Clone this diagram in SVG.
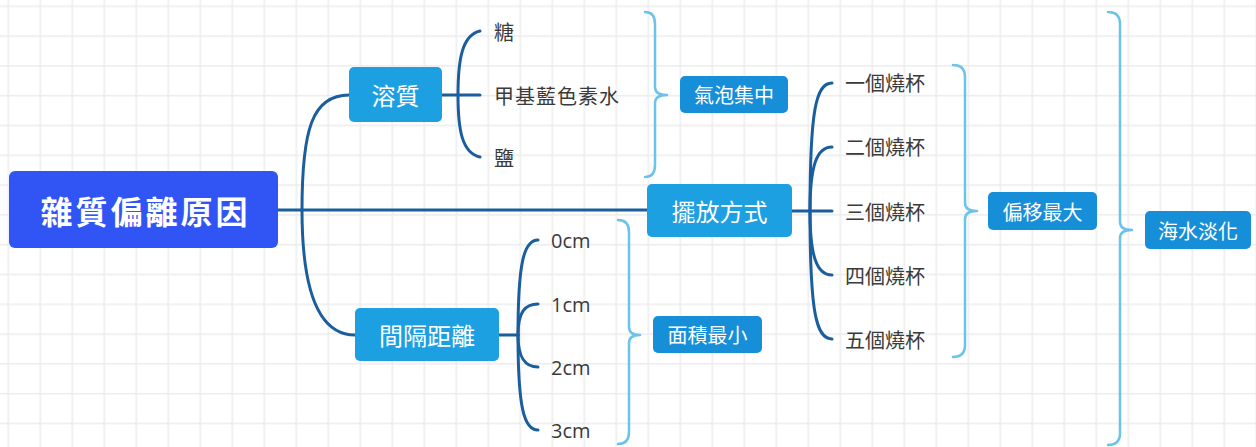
<svg xmlns="http://www.w3.org/2000/svg" width="1256" height="447" viewBox="0 0 1256 447">
<defs>
<pattern id="grid" patternUnits="userSpaceOnUse" x="7.5" y="5.5" width="32" height="29.8">
<rect x="0" y="0" width="1.5" height="29.8" fill="#ececec"/>
<rect x="0" y="0" width="32" height="1.5" fill="#ececec"/>
</pattern>
<style>
.conn{fill:none;stroke:#1b5e9e;stroke-width:3;stroke-linecap:round}
.brace{fill:none;stroke:#6cc3ea;stroke-width:2.5;stroke-linecap:round;stroke-linejoin:round}
.root{fill:#3155f5}
.main{fill:#1ca0e2}
.sum{fill:#168fd8}
.t{font-family:"Noto Sans CJK TC","Noto Sans",sans-serif;text-anchor:middle;dominant-baseline:central}
.rt{fill:#fff;font-size:32px;font-weight:bold;letter-spacing:3px}
.mt{fill:#fff;font-size:24px}
.st{fill:#fff;font-size:20px}
.leaf{font-family:"Noto Sans CJK TC","Noto Sans",sans-serif;fill:#3a3a3a;font-size:20px;dominant-baseline:central}
.cm{font-family:"Open Sans","Noto Sans",sans-serif;fill:#3a3a3a;font-size:20px;dominant-baseline:central}
</style>
</defs>
<rect width="1256" height="447" fill="#ffffff"/>
<rect width="1256" height="447" fill="url(#grid)"/>

<g id="connectors">
<path class="conn" d="M278,210 H647"/>
<path class="conn" d="M302,210 C302,130 312,95 349,95"/>
<path class="conn" d="M302,210 C302,280 315,335 355,335"/>
<path class="conn" d="M442,95 H480"/>
<path class="conn" d="M480,31 C462,35 458,60 458,95 C458,130 462,153 480,157"/>
<path class="conn" d="M499,335 H518"/>
<path class="conn" d="M518,335 C518,262 524,240 538,240"/>
<path class="conn" d="M518,335 C518,312 525,304 538,304"/>
<path class="conn" d="M518,335 C518,358 525,367 538,367"/>
<path class="conn" d="M518,335 C518,408 524,430 538,430"/>
<path class="conn" d="M792,211 H832"/>
<path class="conn" d="M810,211 C810,110 816,83 832,83"/>
<path class="conn" d="M810,211 C810,165 817,147 832,147"/>
<path class="conn" d="M810,211 C810,257 817,275 832,275"/>
<path class="conn" d="M810,211 C810,312 816,339 832,339"/>
<path class="brace" d="M645,12 Q655,12 655,24 V87 Q655,95 667,95 Q655,95 655,103 V165 Q655,177 645,177"/>
<path class="brace" d="M618,220 Q629,220 629,232 V327 Q629,335 640,335 Q629,335 629,343 V432 Q629,444 618,444"/>
<path class="brace" d="M953,65 Q965,65 965,77 V203 Q965,211 977,211 Q965,211 965,219 V345 Q965,357 953,357"/>
<path class="brace" d="M1108,12 Q1120,12 1120,24 V222 Q1120,230 1132,230 Q1120,230 1120,238 V433 Q1120,445 1108,445"/>
</g>

<g id="root">
<rect class="root" x="9" y="171" width="269" height="77" rx="6"/>
<text class="t rt" x="145.5" y="210">雜質偏離原因</text>
</g>
<g id="solute">
<rect class="main" x="349" y="67" width="93" height="55" rx="5"/>
<text class="t mt" x="395.5" y="94.5">溶質</text>
</g>
<g id="spacing">
<rect class="main" x="355" y="308" width="144" height="53" rx="5"/>
<text class="t mt" x="427" y="334.5">間隔距離</text>
</g>
<g id="placement">
<rect class="main" x="647" y="184" width="145" height="53" rx="5"/>
<text class="t mt" x="719.5" y="210.5">擺放方式</text>
</g>
<g id="sum-bubbles">
<rect class="sum" x="680" y="76" width="108" height="37" rx="5"/>
<text class="t st" x="734" y="94.5">氣泡集中</text>
</g>
<g id="sum-area">
<rect class="sum" x="653" y="316" width="109" height="37" rx="5"/>
<text class="t st" x="707.5" y="334.5">面積最小</text>
</g>
<g id="sum-offset">
<rect class="sum" x="988" y="192" width="109" height="38" rx="5"/>
<text class="t st" x="1042.5" y="211">偏移最大</text>
</g>
<g id="sum-desal">
<rect class="sum" x="1145" y="211" width="106" height="38" rx="5"/>
<text class="t st" x="1198" y="230">海水淡化</text>
</g>

<g id="leaf-sugar"><text class="leaf" x="494" y="31">糖</text></g>
<g id="leaf-mb"><text class="leaf" x="494" y="95" letter-spacing="1">甲基藍色素水</text></g>
<g id="leaf-salt"><text class="leaf" x="494" y="157">鹽</text></g>
<g id="leaf-0cm"><text class="cm" x="551" y="240">0cm</text></g>
<g id="leaf-1cm"><text class="cm" x="551" y="304">1cm</text></g>
<g id="leaf-2cm"><text class="cm" x="551" y="367">2cm</text></g>
<g id="leaf-3cm"><text class="cm" x="551" y="430">3cm</text></g>
<g id="leaf-b1"><text class="leaf" x="845" y="82">一個燒杯</text></g>
<g id="leaf-b2"><text class="leaf" x="845" y="146">二個燒杯</text></g>
<g id="leaf-b3"><text class="leaf" x="845" y="211">三個燒杯</text></g>
<g id="leaf-b4"><text class="leaf" x="845" y="275">四個燒杯</text></g>
<g id="leaf-b5"><text class="leaf" x="845" y="339">五個燒杯</text></g>
</svg>
